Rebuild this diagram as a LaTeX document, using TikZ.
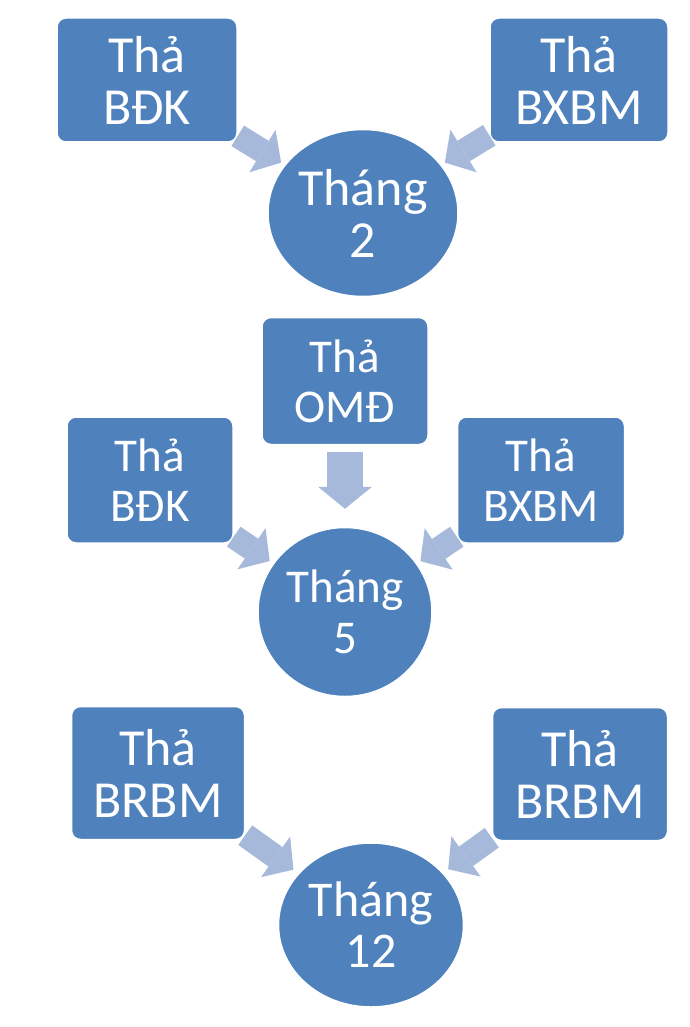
\documentclass[tikz,border=0pt]{standalone}
\usepackage{fontspec}
\setmainfont{Carlito}
\usetikzlibrary{shapes.geometric,arrows.meta}
\definecolor{boxblue}{HTML}{4F81BD}
\definecolor{flowblue}{HTML}{A7B9DA}

\begin{document}
\begin{tikzpicture}[x=1pt,y=-1pt,
  thabox/.style={rectangle, rounded corners=9pt, draw=white, line width=1.5pt,
    fill=boxblue, text=white, align=center, inner sep=0pt},
  bigbox/.style={thabox, font=\fontsize{52}{52}\selectfont},
  midbox/.style={thabox, font=\fontsize{47}{50}\selectfont},
  month/.style={ellipse, draw=white, line width=1.5pt, fill=boxblue,
    text=white, align=center, inner sep=0pt},
  flow/.style={draw=flowblue, line width=24pt,
    -{Triangle[length=22pt,width=50pt,line width=0pt]}, shorten >=4pt}]
  \useasboundingbox (0,0) rectangle (690,1027);
  % February
  \node[bigbox, minimum width=180pt, minimum height=124pt] (B1) at (147,80) {Thả\\BĐK};
  \node[bigbox, minimum width=178pt, minimum height=124pt] (B2) at (579,80) {Thả\\BXBM};
  \node[month, minimum width=190pt, minimum height=167pt,
    font=\fontsize{52}{52}\selectfont] (M2) at (363,213) {Tháng\\2};
  % May
  \node[midbox, minimum width=166pt, minimum height=127pt] (C1) at (345,381) {Thả\\OMĐ};
  \node[midbox, minimum width=166pt, minimum height=126pt] (C2) at (150,480) {Thả\\BĐK};
  \node[midbox, minimum width=167pt, minimum height=126pt] (C3) at (541,480) {Thả\\BXBM};
  \node[month, minimum width=174pt, minimum height=169pt,
    font=\fontsize{47}{51}\selectfont] (M5) at (345,612) {Tháng\\5};
  % December
  \node[bigbox, minimum width=173pt, minimum height=133pt] (D1) at (158,773) {Thả\\BRBM};
  \node[bigbox, minimum width=175pt, minimum height=133pt] (D2) at (580,774) {Thả\\BRBM};
  \node[month, minimum width=185pt, minimum height=164pt,
    font=\fontsize{50}{51}\selectfont] (M12) at (371,925) {Tháng\\12};
  \draw[flow] (B1) -- (M2);
  \draw[flow] (B2) -- (M2);
  \draw[flow, line width=36pt, -{Triangle[length=22pt,width=54pt,line width=0pt]},
    shorten <=7pt, shorten >=18pt] (C1) -- (M5);
  \draw[flow] (C2) -- (M5);
  \draw[flow] (C3) -- (M5);
  \draw[flow, shorten >=6pt] (D1) -- (M12);
  \draw[flow, shorten >=6pt] (D2) -- (M12);
\end{tikzpicture}
\end{document}
